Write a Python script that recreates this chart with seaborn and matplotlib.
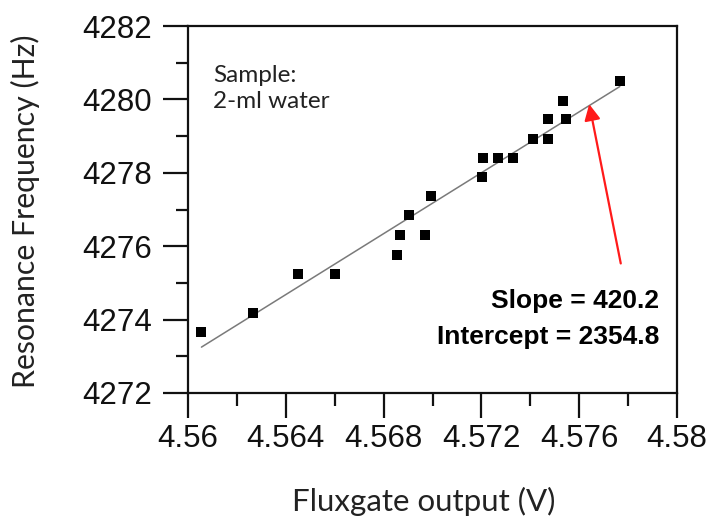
import matplotlib
matplotlib.use("Agg")
import matplotlib.pyplot as plt
import seaborn as sns
import numpy as np
import pandas as pd
from matplotlib.ticker import MultipleLocator, FixedLocator

# ---- data ----
flux_v = [4.56055, 4.56264, 4.56450, 4.56600, 4.56855, 4.56866, 4.56904,
          4.56970, 4.56992, 4.57203, 4.57207, 4.57268, 4.57330, 4.57409,
          4.57473, 4.57473, 4.57532, 4.57544, 4.57766]
freq_hz = [4273.67, 4274.19, 4275.25, 4275.25, 4275.77, 4276.31, 4276.84,
           4276.31, 4277.36, 4277.89, 4278.39, 4278.39, 4278.39, 4278.93,
           4278.93, 4279.46, 4279.97, 4279.46, 4280.50]
fit_x = [4.56055, 4.57766]
fit_y = [4273.25, 4280.35]
arrow_tip = (4.57641, 4279.87)
arrow_tail = (4.57770, 4275.53)
x_ticks = [4.56, 4.564, 4.568, 4.572, 4.576, 4.58]
x_tick_labels = ["4.56", "4.564", "4.568", "4.572", "4.576", "4.58"]
y_ticks = [4272, 4274, 4276, 4278, 4280, 4282]
y_tick_labels = ["4272", "4274", "4276", "4278", "4280", "4282"]
sample_note = "Sample:\n2-ml water"
fit_note = "Slope = 420.2\nIntercept = 2354.8"
x_label = "Fluxgate output (V)"
y_label = "Resonance Frequency (Hz)"

df = pd.DataFrame({"flux": flux_v, "freq": freq_hz})
fit_df = pd.DataFrame({"flux": fit_x, "freq": fit_y})

sns.set_theme(style="white")
plt.rcParams["font.family"] = ["Liberation Sans", "DejaVu Sans"]

fig = plt.figure(figsize=(7.12, 5.22), dpi=100)
ax = fig.add_axes([188/712, 1-393/522, 489/712, 367/522])

sns.lineplot(data=fit_df, x="flux", y="freq", ax=ax, color="#7a7a7a",
             linewidth=1.1, zorder=2)
sns.scatterplot(data=df, x="flux", y="freq", ax=ax, marker="s", s=62,
                color="black", edgecolor="black", linewidth=0, zorder=3)

ax.annotate("", xy=arrow_tip, xytext=arrow_tail,
            arrowprops=dict(arrowstyle="-|>", color="#ff1a1a", lw=1.6,
                            mutation_scale=24, shrinkA=0, shrinkB=0))

ax.set_xlim(4.56, 4.58)
ax.set_ylim(4272, 4282)
ax.xaxis.set_major_locator(FixedLocator(x_ticks))
ax.set_xticklabels(x_tick_labels)
ax.yaxis.set_major_locator(FixedLocator(y_ticks))
ax.set_yticklabels(y_tick_labels)
ax.xaxis.set_minor_locator(MultipleLocator(0.002))
ax.yaxis.set_minor_locator(MultipleLocator(1))

for s in ax.spines.values():
    s.set_visible(True)
    s.set_color("#111111")
    s.set_linewidth(1.6)

ax.tick_params(axis="both", which="major", direction="out", length=18,
               width=1.6, color="#111111", labelsize=22.5, labelcolor="#111111")
ax.tick_params(axis="both", which="minor", direction="out", length=9,
               width=1.6, color="#111111")
ax.tick_params(axis="x", which="both", bottom=True, top=False, pad=4)
ax.tick_params(axis="y", which="both", left=True, right=False, pad=8)

label_font = ["Lato", "DejaVu Sans"]
ax.set_xlabel(x_label, fontsize=22.5, family=label_font, color="#222222",
              va="center")
ax.set_ylabel(y_label, fontsize=21.8, family=label_font, color="#222222",
              va="center")
ax.xaxis.set_label_coords(0.483, -0.295)
ax.yaxis.set_label_coords(-0.333, 0.496)

ax.text(0.051, 0.895, sample_note, transform=ax.transAxes, ha="left", va="top",
        fontsize=17.5, family=label_font, color="#222222", linespacing=1.35)

ax.text(0.963, 0.283, fit_note, transform=ax.transAxes, ha="right", va="top",
        fontsize=19, fontweight="bold",
        family=["Liberation Sans Narrow", "Liberation Sans"],
        color="black", linespacing=1.6)

fig.savefig("out.png", dpi=100)
